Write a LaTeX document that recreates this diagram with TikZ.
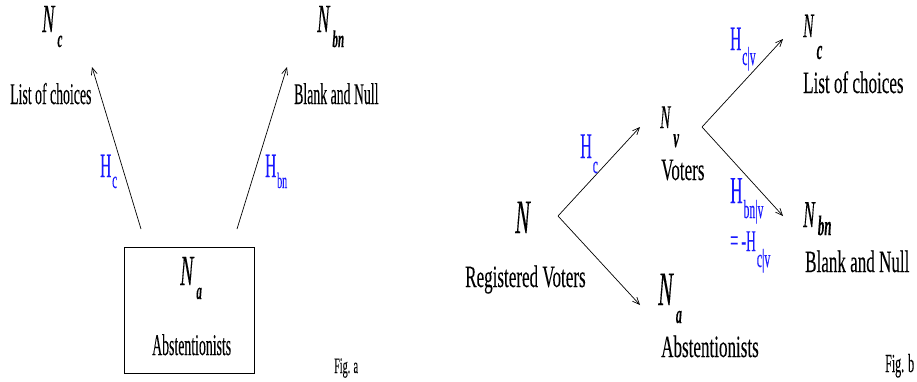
\documentclass[tikz,border=0pt]{standalone}
\usepackage{fontspec}
\setmainfont{Liberation Serif}
\newfontfamily\fa{Liberation Serif}[FakeStretch=0.46,FakeBold=0.15]
\newfontfamily\fb{Liberation Serif}[FakeStretch=0.55,FakeBold=0.15]
\newfontfamily\fh{Liberation Serif}[FakeStretch=0.45,FakeBold=0.15]
\usetikzlibrary{arrows.meta}
\definecolor{hblue}{RGB}{25,25,255}
\tikzset{
  txa/.style ={font=\fa\fontsize{30}{32}\selectfont,inner sep=0pt,anchor=base west},
  txb/.style ={font=\fb\fontsize{31}{34}\selectfont,inner sep=0pt,anchor=base west},
  nlab/.style={font=\fa,inner sep=0pt,anchor=base west},
  hlab/.style={font=\fh,text=hblue,inner sep=0pt,anchor=base west},
  arr/.style ={-{Straight Barb[length=7pt,width=6pt]},line width=.7pt},
}
% N with a dropped bold-italic index: size, index, index size, drop
\newcommand{\Nsub}[4]{%
  {\fontsize{#1}{#1}\selectfont\itshape N}\kern3pt%
  \raisebox{-#4pt}{\fontsize{#3}{#3}\selectfont\bfseries\itshape #2}}
% H with a dropped index
\newcommand{\Hsub}[4]{%
  {\fontsize{#1}{#1}\selectfont H}\kern1pt%
  \raisebox{-#4pt}{\fontsize{#3}{#3}\selectfont #2}}

\begin{document}
\begin{tikzpicture}[x=1pt,y=-1pt]
\useasboundingbox (0,0) rectangle (917,381);

% ===================== FIG. A =======================================
\node[nlab] (nca)  at (42,32)   {\Nsub{40}{c}{24}{15}};
\node[nlab] (nbna) at (317,32)  {\Nsub{40}{bn}{24}{15}};
\node[txa]  (lca)  at (10,104)  {List of choices};
\node[txa]  (lbna) at (294,104) {Blank and Null};

\node[draw,line width=1pt,minimum width=130pt,minimum height=126pt] (boxa) at (189,310) {};
\node[nlab] (naa)  at (180,285) {\Nsub{43}{a}{24}{14}};
\node[txa]  (absa) at (152,355) {Abstentionists};
\node[nlab,font=\fa\fontsize{22}{24}\selectfont] (figa) at (334,373) {Fig. a};

\coordinate (sca)  at (141,229);
\coordinate (eca)  at (92,67);
\coordinate (sbna) at (237,229);
\coordinate (ebna) at (287,67);
\draw[arr] (sca) -- (eca);
\draw[arr] (sbna) -- (ebna);
\node[hlab] (hca)  at (100,177) {\Hsub{34}{c}{24}{11}};
\node[hlab] (hbna) at (265,177) {\Hsub{34}{bn}{22}{11}};

% ===================== FIG. B =======================================
\node[nlab] (nb)   at (515,233) {{\fontsize{48}{48}\selectfont\itshape N}};
\node[txb]  (regb) at (465,287) {Registered Voters};
\coordinate (fk1) at (558,216);
\coordinate (evb) at (640,127);
\coordinate (eab) at (640,305);
\draw[arr] (fk1) -- (evb);
\draw[arr] (fk1) -- (eab);
\node[hlab] (hcb)  at (580,158) {\Hsub{36}{c}{24}{15}};

\node[nlab] (nvb)  at (660,128) {\Nsub{33}{v}{28}{19}};
\node[txb]  (votb) at (661,180) {Voters};
\coordinate (fk2)  at (702,127);
\coordinate (ecb)  at (783,39);
\coordinate (ebnb) at (783,216);
\draw[arr] (fk2) -- (ecb);
\draw[arr] (fk2) -- (ebnb);
\node[hlab] (hcvb)  at (730,50)  {\Hsub{34}{c|v}{26}{15}};
\node[hlab] (hbnvb) at (730,203) {\Hsub{38}{bn|v}{26}{15}};
\node[hlab] (eqb)   at (730,251) {{\fontsize{32}{32}\selectfont=\hspace{3pt}-}\Hsub{30}{c|v}{26}{16}};

\node[nlab] (ncb)  at (803,37)  {\Nsub{34}{c}{28}{22}};
\node[txb]  (lcb)  at (803,93)  {List of choices};
\node[nlab] (nbnb) at (803,227) {\Nsub{38}{bn}{28}{8}};
\node[txb]  (lbnb) at (805,272) {Blank and Null};
\node[nlab] (nab)  at (658,305) {\Nsub{48}{a}{26}{18}};
\node[txb]  (absb) at (661,357) {Abstentionists};
\node[nlab,font=\fa\fontsize{26}{28}\selectfont] (figb) at (885,372) {Fig. b};

\end{tikzpicture}
\end{document}
